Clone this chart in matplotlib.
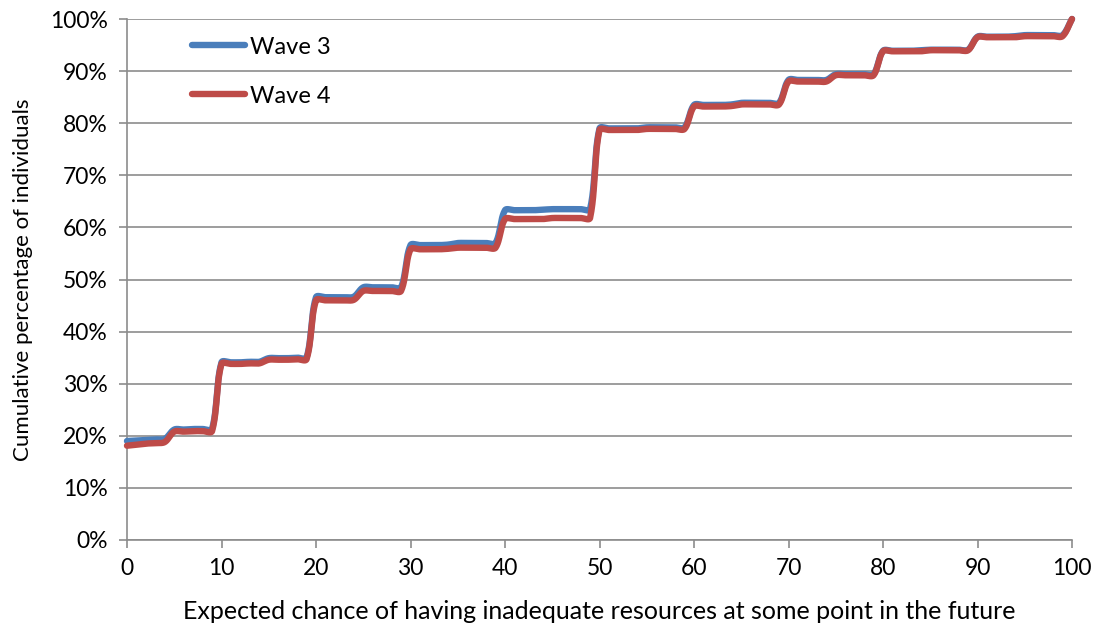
import numpy as np
import matplotlib
matplotlib.use("Agg")
import matplotlib.pyplot as plt
from matplotlib.ticker import FuncFormatter, MultipleLocator

# ---- data (cumulative %, one point per integer 0..100) ----
x_vals = list(range(0, 101))

wave3 = [
    19.0, 19.1, 19.2, 19.3, 19.4,
    21.2, 21.2, 21.3, 21.3, 21.3,
    34.1, 34.1, 34.1, 34.2, 34.2,
    34.9, 34.9, 34.9, 35.0, 35.0,
    46.6, 46.6, 46.6, 46.6, 46.7,
    48.5, 48.5, 48.5, 48.5, 48.5,
    56.6, 56.6, 56.6, 56.6, 56.7,
    57.0, 57.0, 57.0, 57.0, 57.0,
    63.3, 63.3, 63.3, 63.3, 63.4,
    63.5, 63.5, 63.5, 63.5, 63.5,
    79.0, 79.0, 79.0, 79.0, 79.0,
    79.2, 79.2, 79.2, 79.2, 79.2,
    83.5, 83.5, 83.5, 83.5, 83.6,
    83.9, 83.9, 83.9, 83.9, 83.9,
    88.3, 88.3, 88.3, 88.3, 88.3,
    89.4, 89.4, 89.4, 89.4, 89.4,
    93.9, 93.9, 93.9, 93.9, 94.0,
    94.1, 94.1, 94.1, 94.1, 94.1,
    96.6, 96.6, 96.6, 96.6, 96.7,
    96.9, 96.9, 96.9, 96.9, 96.9,
    100.0,
]

wave4 = [
    18.1, 18.3, 18.5, 18.6, 18.8,
    20.8, 20.8, 20.9, 20.9, 20.9,
    33.8, 33.8, 33.8, 33.9, 33.9,
    34.6, 34.6, 34.6, 34.7, 34.7,
    46.0, 46.0, 46.0, 46.0, 46.1,
    47.8, 47.8, 47.8, 47.8, 47.8,
    55.8, 55.8, 55.8, 55.8, 55.9,
    56.1, 56.1, 56.1, 56.1, 56.1,
    61.6, 61.6, 61.6, 61.6, 61.6,
    61.8, 61.8, 61.8, 61.8, 61.8,
    78.7, 78.7, 78.7, 78.7, 78.7,
    78.9, 78.9, 78.9, 78.9, 78.9,
    83.2, 83.2, 83.2, 83.2, 83.3,
    83.6, 83.6, 83.6, 83.6, 83.6,
    88.0, 88.0, 88.0, 88.0, 88.0,
    89.2, 89.2, 89.2, 89.2, 89.2,
    93.8, 93.8, 93.8, 93.8, 93.8,
    94.0, 94.0, 94.0, 94.0, 94.0,
    96.5, 96.5, 96.5, 96.5, 96.5,
    96.7, 96.7, 96.7, 96.7, 96.7,
    100.0,
]

series_names = ["Wave 3", "Wave 4"]
colors = ["#4A7EBB", "#BE4B48"]

W, H = 1100, 631
AX_L, AX_R, AX_T, AX_B = 127, 1072, 19, 540


def smooth(xs, ys, sx, sy, n=24, t=1.0 / 3.0):
    """Bezier smoothing with length-weighted tangents (spreadsheet-like)."""
    P = np.column_stack([np.asarray(xs, float) * sx, np.asarray(ys, float) * sy])
    m = len(P)
    L = np.hypot(*np.diff(P, axis=0).T)
    cin = np.zeros_like(P)
    cout = np.zeros_like(P)
    for i in range(m):
        if i == 0:
            d = P[1] - P[0]
            cout[i] = P[i] + d * t
            cin[i] = P[i]
        elif i == m - 1:
            d = P[i] - P[i - 1]
            cin[i] = P[i] - d * t
            cout[i] = P[i]
        else:
            d = P[i + 1] - P[i - 1]
            tot = L[i - 1] + L[i]
            cin[i] = P[i] - d * (L[i - 1] / tot) * t
            cout[i] = P[i] + d * (L[i] / tot) * t
    tt = np.linspace(0, 1, n + 1)[1:][:, None]
    out = [P[0]]
    for i in range(m - 1):
        p0, p1, p2, p3 = P[i], cout[i], cin[i + 1], P[i + 1]
        seg = ((1 - tt) ** 3) * p0 + 3 * ((1 - tt) ** 2) * tt * p1 + 3 * (1 - tt) * tt ** 2 * p2 + tt ** 3 * p3
        out.extend(seg)
    out = np.array(out)
    return out[:, 0] / sx, out[:, 1] / sy


plt.rcParams['font.family'] = ['Lato', 'DejaVu Sans']

fig = plt.figure(figsize=(W / 100, H / 100), dpi=100)
ax = fig.add_axes([AX_L / W, (H - AX_B) / H, (AX_R - AX_L) / W, (AX_B - AX_T) / H])

ax.set_xlim(0, 100)
ax.set_ylim(0, 100)
px_per_x = (AX_R - AX_L) / 100.0
px_per_y = (AX_B - AX_T) / 100.0

for vals, name, c in zip([wave3, wave4], series_names, colors):
    sxv, syv = smooth(x_vals, vals, px_per_x, px_per_y)
    ax.plot(sxv, syv, color=c, lw=4.6, label=name, solid_capstyle='round',
            clip_on=False, zorder=3)

ax.xaxis.set_major_locator(MultipleLocator(10))
ax.yaxis.set_major_locator(MultipleLocator(10))
ax.yaxis.set_major_formatter(FuncFormatter(lambda v, p: f"{int(round(v))}%"))

grid_c = "#8C8C8C"
ax.grid(axis='y', color=grid_c, lw=1.2, zorder=0)
ax.set_axisbelow(True)
for s in ['top', 'right']:
    ax.spines[s].set_visible(False)
for s in ['left', 'bottom']:
    ax.spines[s].set_color(grid_c)
    ax.spines[s].set_linewidth(1.2)
ax.tick_params(axis='both', direction='out', color=grid_c, width=1.2, length=6,
               labelsize=16.5, labelcolor='black')
ax.tick_params(axis='x', pad=7)
ax.tick_params(axis='y', pad=8)

ax.set_xlabel("Expected chance of having inadequate resources at some point in the future",
              fontsize=18, labelpad=15)
ax.set_ylabel("Cumulative percentage of individuals", fontsize=16, labelpad=12)

leg = ax.legend(loc='upper left', bbox_to_anchor=((192 - AX_L) / (AX_R - AX_L), 0.966),
                frameon=False, fontsize=17, handlelength=2.25, handletextpad=0.2,
                labelspacing=1.18, borderaxespad=0.0, borderpad=0.0)

fig.savefig("out.png", dpi=100)
